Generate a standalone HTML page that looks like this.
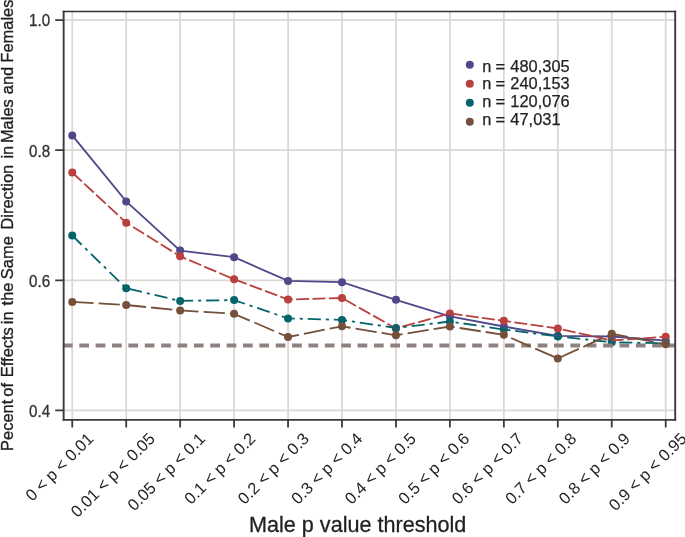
<!DOCTYPE html><html><head><meta charset="utf-8"><style>html,body{margin:0;padding:0;background:#fff;}svg{display:block;will-change:transform;}text{font-family:"Liberation Sans",sans-serif;}</style></head><body>
<svg width="685" height="537" viewBox="0 0 685 537">
<rect width="685" height="537" fill="#fff"/>
<path d="M72.25 11.6V419.9M126.20 11.6V419.9M180.15 11.6V419.9M234.10 11.6V419.9M288.05 11.6V419.9M342.00 11.6V419.9M395.95 11.6V419.9M449.90 11.6V419.9M503.85 11.6V419.9M557.80 11.6V419.9M611.75 11.6V419.9M665.70 11.6V419.9M63.85 20.05H675.0M63.85 150.17H675.0M63.85 280.29H675.0M63.85 410.41H675.0" stroke="#dcd6d4" stroke-width="1.7" fill="none"/>
<circle cx="72.25" cy="135.40" r="4.0" fill="#50488a"/>
<circle cx="126.20" cy="201.40" r="4.0" fill="#50488a"/>
<circle cx="180.15" cy="250.60" r="4.0" fill="#50488a"/>
<circle cx="234.10" cy="257.20" r="4.0" fill="#50488a"/>
<circle cx="288.05" cy="280.90" r="4.0" fill="#50488a"/>
<circle cx="342.00" cy="282.20" r="4.0" fill="#50488a"/>
<circle cx="395.95" cy="299.80" r="4.0" fill="#50488a"/>
<circle cx="449.90" cy="316.30" r="4.0" fill="#50488a"/>
<circle cx="503.85" cy="326.50" r="4.0" fill="#50488a"/>
<circle cx="557.80" cy="335.80" r="4.0" fill="#50488a"/>
<circle cx="611.75" cy="336.50" r="4.0" fill="#50488a"/>
<circle cx="665.70" cy="340.60" r="4.0" fill="#50488a"/>
<circle cx="72.25" cy="172.50" r="4.0" fill="#b8403f"/>
<circle cx="126.20" cy="222.70" r="4.0" fill="#b8403f"/>
<circle cx="180.15" cy="256.30" r="4.0" fill="#b8403f"/>
<circle cx="234.10" cy="279.30" r="4.0" fill="#b8403f"/>
<circle cx="288.05" cy="299.50" r="4.0" fill="#b8403f"/>
<circle cx="342.00" cy="298.00" r="4.0" fill="#b8403f"/>
<circle cx="395.95" cy="328.50" r="4.0" fill="#b8403f"/>
<circle cx="449.90" cy="313.40" r="4.0" fill="#b8403f"/>
<circle cx="503.85" cy="320.80" r="4.0" fill="#b8403f"/>
<circle cx="557.80" cy="328.50" r="4.0" fill="#b8403f"/>
<circle cx="611.75" cy="340.50" r="4.0" fill="#b8403f"/>
<circle cx="665.70" cy="336.70" r="4.0" fill="#b8403f"/>
<circle cx="72.25" cy="235.50" r="4.0" fill="#04646a"/>
<circle cx="126.20" cy="288.30" r="4.0" fill="#04646a"/>
<circle cx="180.15" cy="300.90" r="4.0" fill="#04646a"/>
<circle cx="234.10" cy="300.10" r="4.0" fill="#04646a"/>
<circle cx="288.05" cy="318.40" r="4.0" fill="#04646a"/>
<circle cx="342.00" cy="319.90" r="4.0" fill="#04646a"/>
<circle cx="395.95" cy="328.00" r="4.0" fill="#04646a"/>
<circle cx="449.90" cy="321.50" r="4.0" fill="#04646a"/>
<circle cx="503.85" cy="329.50" r="4.0" fill="#04646a"/>
<circle cx="557.80" cy="336.40" r="4.0" fill="#04646a"/>
<circle cx="611.75" cy="342.30" r="4.0" fill="#04646a"/>
<circle cx="665.70" cy="343.20" r="4.0" fill="#04646a"/>
<path d="M62.93 345.55H675.0" stroke="#8e827f" stroke-width="4" stroke-dasharray="9.7 6.67"/>
<polyline points="72.25,135.40 126.20,201.40 180.15,250.60 234.10,257.20 288.05,280.90 342.00,282.20 395.95,299.80 449.90,316.30 503.85,326.50 557.80,335.80 611.75,336.50 665.70,340.60" fill="none" stroke="#50488a" stroke-width="1.8"/>
<polyline points="72.25,172.50 126.20,222.70 180.15,256.30 234.10,279.30 288.05,299.50 342.00,298.00 395.95,328.50 449.90,313.40 503.85,320.80 557.80,328.50 611.75,340.50 665.70,336.70" fill="none" stroke="#b8403f" stroke-width="1.8" stroke-dasharray="13.0 3.35"/>
<polyline points="72.25,235.50 126.20,288.30 180.15,300.90 234.10,300.10 288.05,318.40 342.00,319.90 395.95,328.00 449.90,321.50 503.85,329.50 557.80,336.40 611.75,342.30 665.70,343.20" fill="none" stroke="#04646a" stroke-width="1.8" stroke-dasharray="13.2 4.9 3.15 4.9"/>
<polyline points="72.25,301.90 126.20,305.00 180.15,310.40 234.10,313.80 288.05,337.00 342.00,326.30 395.95,335.30 449.90,326.50 503.85,334.80 557.80,358.50 611.75,333.80 665.70,344.30" fill="none" stroke="#75503a" stroke-width="1.8" stroke-dasharray="21.3 5.05"/>
<circle cx="72.25" cy="301.90" r="4.0" fill="#75503a"/>
<circle cx="126.20" cy="305.00" r="4.0" fill="#75503a"/>
<circle cx="180.15" cy="310.40" r="4.0" fill="#75503a"/>
<circle cx="234.10" cy="313.80" r="4.0" fill="#75503a"/>
<circle cx="288.05" cy="337.00" r="4.0" fill="#75503a"/>
<circle cx="342.00" cy="326.30" r="4.0" fill="#75503a"/>
<circle cx="395.95" cy="335.30" r="4.0" fill="#75503a"/>
<circle cx="449.90" cy="326.50" r="4.0" fill="#75503a"/>
<circle cx="503.85" cy="334.80" r="4.0" fill="#75503a"/>
<circle cx="557.80" cy="358.50" r="4.0" fill="#75503a"/>
<circle cx="611.75" cy="333.80" r="4.0" fill="#75503a"/>
<circle cx="665.70" cy="344.30" r="4.0" fill="#75503a"/>
<path d="M63.65 10.8V420.85" stroke="#3a3a3c" stroke-width="1.9" fill="none"/>
<path d="M675.2 10.8V420.85" stroke="#3a3a3c" stroke-width="1.9" fill="none"/>
<path d="M62.7 11.55H676.15" stroke="#333333" stroke-width="1.5" fill="none"/>
<path d="M62.7 419.9H676.15" stroke="#3a3a3c" stroke-width="1.9" fill="none"/>
<path d="M55.2 20.05H63.85M55.2 150.17H63.85M55.2 280.29H63.85M55.2 410.41H63.85M72.25 419.9V427.5M126.20 419.9V427.5M180.15 419.9V427.5M234.10 419.9V427.5M288.05 419.9V427.5M342.00 419.9V427.5M395.95 419.9V427.5M449.90 419.9V427.5M503.85 419.9V427.5M557.80 419.9V427.5M611.75 419.9V427.5M665.70 419.9V427.5" stroke="#3a3a3c" stroke-width="1.8" fill="none"/>
<text x="0" y="0" font-size="15.6" text-anchor="end" fill="#333333" stroke="#333333" stroke-width="0.3" transform="translate(50.15 26.45) scale(0.97 1)">1.0</text>
<text x="0" y="0" font-size="15.6" text-anchor="end" fill="#333333" stroke="#333333" stroke-width="0.3" transform="translate(50.15 156.57) scale(0.97 1)">0.8</text>
<text x="0" y="0" font-size="15.6" text-anchor="end" fill="#333333" stroke="#333333" stroke-width="0.3" transform="translate(50.15 286.69) scale(0.97 1)">0.6</text>
<text x="0" y="0" font-size="15.6" text-anchor="end" fill="#333333" stroke="#333333" stroke-width="0.3" transform="translate(50.15 416.81) scale(0.97 1)">0.4</text>
<text x="94.49" y="439.66" font-size="16.5" text-anchor="end" fill="#231f20" transform="rotate(-45 94.49 439.66)" xml:space="preserve">0 &lt; p &lt; 0.01</text>
<text x="156.08" y="439.66" font-size="16.5" text-anchor="end" fill="#231f20" transform="rotate(-45 156.08 439.66)" xml:space="preserve">0.01 &lt; p &lt; 0.05</text>
<text x="206.31" y="439.66" font-size="16.5" text-anchor="end" fill="#231f20" transform="rotate(-45 206.31 439.66)" xml:space="preserve">0.05 &lt; p &lt; 0.1</text>
<text x="256.55" y="439.66" font-size="16.5" text-anchor="end" fill="#231f20" transform="rotate(-45 256.55 439.66)" xml:space="preserve">0.1 &lt; p &lt; 0.2</text>
<text x="310.03" y="439.66" font-size="16.5" text-anchor="end" fill="#231f20" transform="rotate(-45 310.03 439.66)" xml:space="preserve">0.2 &lt; p &lt; 0.3</text>
<text x="363.51" y="439.66" font-size="16.5" text-anchor="end" fill="#231f20" transform="rotate(-45 363.51 439.66)" xml:space="preserve">0.3 &lt; p &lt; 0.4</text>
<text x="416.99" y="439.66" font-size="16.5" text-anchor="end" fill="#231f20" transform="rotate(-45 416.99 439.66)" xml:space="preserve">0.4 &lt; p &lt; 0.5</text>
<text x="470.47" y="439.66" font-size="16.5" text-anchor="end" fill="#231f20" transform="rotate(-45 470.47 439.66)" xml:space="preserve">0.5 &lt; p &lt; 0.6</text>
<text x="523.95" y="439.66" font-size="16.5" text-anchor="end" fill="#231f20" transform="rotate(-45 523.95 439.66)" xml:space="preserve">0.6 &lt; p &lt; 0.7</text>
<text x="577.43" y="439.66" font-size="16.5" text-anchor="end" fill="#231f20" transform="rotate(-45 577.43 439.66)" xml:space="preserve">0.7 &lt; p &lt; 0.8</text>
<text x="630.91" y="439.66" font-size="16.5" text-anchor="end" fill="#231f20" transform="rotate(-45 630.91 439.66)" xml:space="preserve">0.8 &lt; p &lt; 0.9</text>
<text x="687.63" y="439.66" font-size="16.5" text-anchor="end" fill="#231f20" transform="rotate(-45 687.63 439.66)" xml:space="preserve">0.9 &lt; p &lt; 0.95</text>
<text x="249.06" y="532.0" font-size="21.6" fill="#231f20" stroke="#231f20" stroke-width="0.3">Male p value threshold</text>
<text x="0" y="0" font-size="16.45" fill="#231f20" stroke="#231f20" stroke-width="0.35" transform="translate(12.75 450.9) rotate(-90)"><tspan x="0.00">Pecent</tspan><tspan x="54.28">of</tspan><tspan x="73.77">Effects</tspan><tspan x="126.73">in</tspan><tspan x="145.50">the</tspan><tspan x="171.74">Same</tspan><tspan x="221.29">Direction</tspan><tspan x="292.37">in</tspan><tspan x="307.84">Males</tspan><tspan x="356.69">and</tspan><tspan x="388.31">Females</tspan></text>
<circle cx="469.8" cy="64.80" r="4.0" fill="#50488a"/>
<text y="71.60" font-size="16.4" fill="#231f20" stroke="#231f20" stroke-width="0.25"><tspan x="482.23">n</tspan><tspan x="495.58">=</tspan><tspan x="510.37">480,305</tspan></text>
<circle cx="469.8" cy="83.75" r="4.0" fill="#b8403f"/>
<text y="89.45" font-size="16.4" fill="#231f20" stroke="#231f20" stroke-width="0.25"><tspan x="482.23">n</tspan><tspan x="495.58">=</tspan><tspan x="510.37">240,153</tspan></text>
<circle cx="469.8" cy="102.70" r="4.0" fill="#04646a"/>
<text y="107.30" font-size="16.4" fill="#231f20" stroke="#231f20" stroke-width="0.25"><tspan x="482.23">n</tspan><tspan x="495.58">=</tspan><tspan x="510.37">120,076</tspan></text>
<circle cx="469.8" cy="121.65" r="4.0" fill="#75503a"/>
<text y="125.15" font-size="16.4" fill="#231f20" stroke="#231f20" stroke-width="0.25"><tspan x="482.23">n</tspan><tspan x="495.58">=</tspan><tspan x="510.37">47,031</tspan></text>
</svg></body></html>
